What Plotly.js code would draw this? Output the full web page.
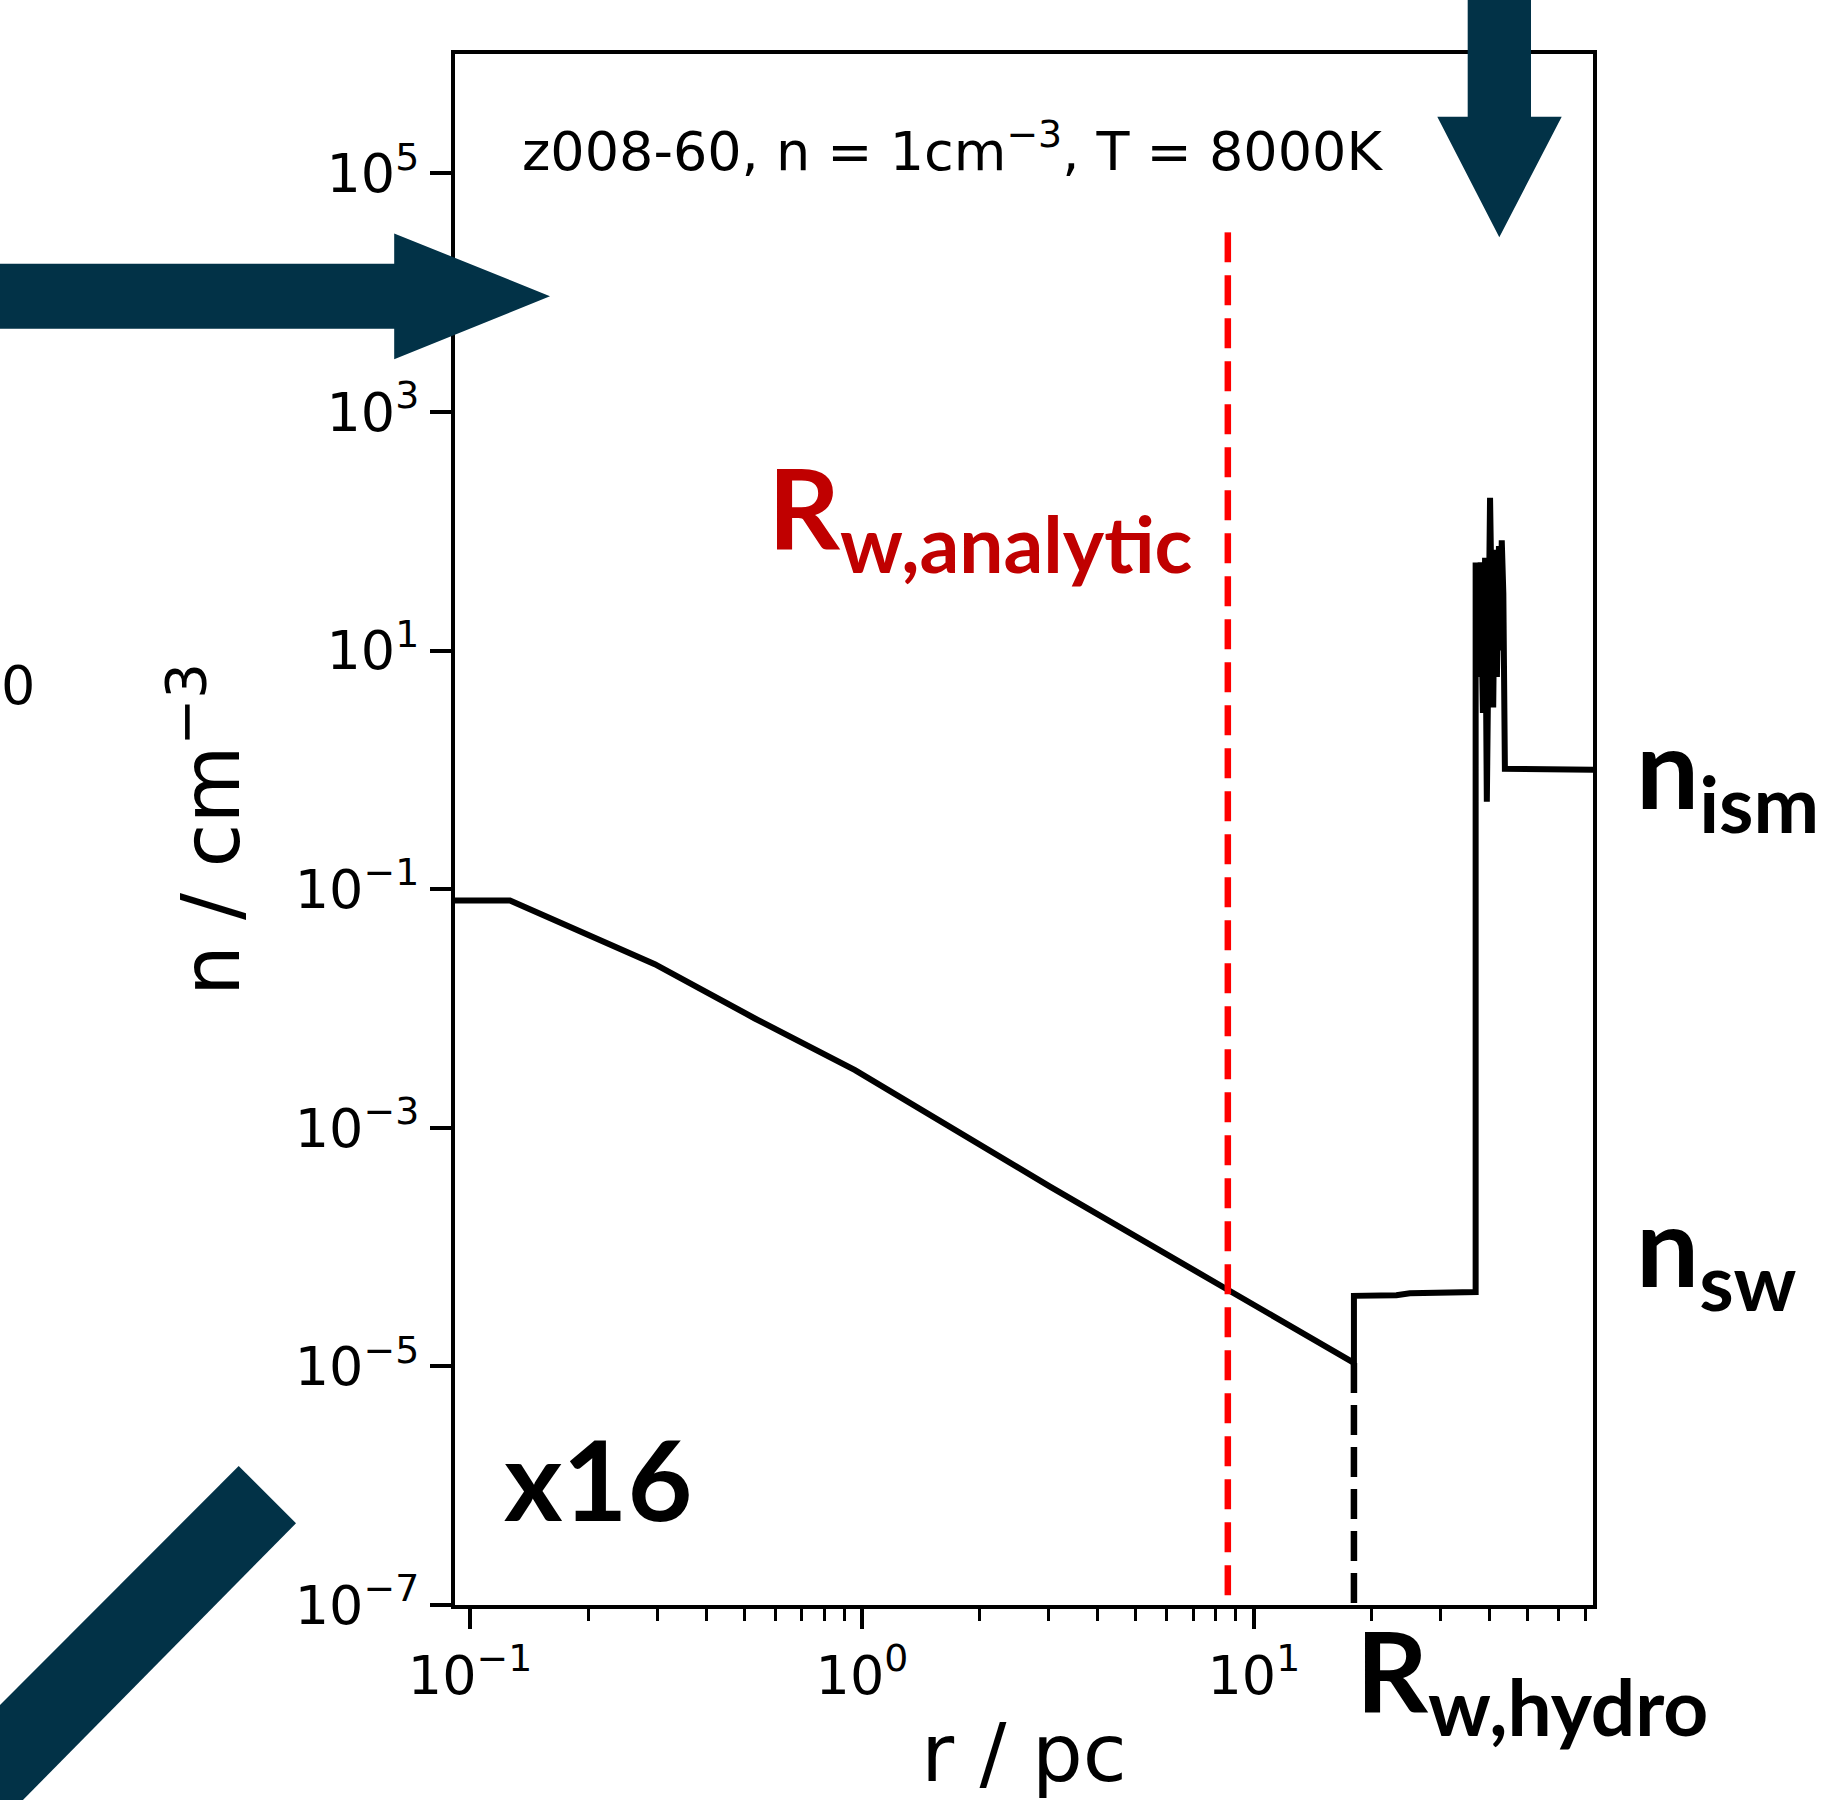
<!DOCTYPE html>
<html><head><meta charset="utf-8">
<script src="https://cdn.plot.ly/plotly-3.0.1.min.js"></script>
<style>html,body{margin:0;padding:0;background:#fff}</style>
</head><body>
<div id="chart" style="width:1833px;height:1800px"></div>
<script>
// ---- data ----
const radius_pc = [0.09, 0.1264, 0.296, 0.533, 0.960, 3.018, 8.577, 18.0, 18.0, 23.1, 25.0, 36.8, 36.8, 37.4, 37.9, 38.4, 38.9, 39.3, 40.05, 40.4, 40.8, 41.2, 41.7, 42.2, 42.6, 42.9, 43.3, 43.7, 75];
const density_cm3 = [0.0805, 0.0805, 0.0235, 0.00824, 0.00304, 3.21e-4, 4.39e-5, 1.07e-5, 3.9e-5, 3.95e-5, 4.1e-5, 4.2e-5, 54.6, 6, 55, 3, 60, 0.54, 191, 20, 3.34, 70, 6, 75, 10, 84, 30, 1.02, 1.0];
const R_analytic = 8.58;
const R_analytic_top = 3.2e4;
const R_hydro = 18.0;
const R_hydro_top = 1.07e-5;
const n_floor = 1e-7;

const yTickVals = [1e-7, 1e-5, 1e-3, 1e-1, 1e1, 1e3, 1e5];
const yTickText = ['10<sup>\u22127</sup>', '10<sup>\u22125</sup>', '10<sup>\u22123</sup>', '10<sup>\u22121</sup>', '10<sup>1</sup>', '10<sup>3</sup>', '10<sup>5</sup>'];
const xTickVals = [0.1, 1, 10];
const xTickText = ['10<sup>\u22121</sup>', '10<sup>0</sup>', '10<sup>1</sup>'];
const xMinorVals = [0.2,0.3,0.4,0.5,0.6,0.7,0.8,0.9, 2,3,4,5,6,7,8,9, 20,30,40,50,60,70];

const titleText = 'z008-60, n = 1cm<sup>\u22123</sup>, T = 8000K';

// ---- layout helpers (pixel -> paper) ----
const W = 1833, H = 1800;
const L = 455, R = 1593, T = 54, B = 1605;
const px = X => (X - L) / (R - L);
const py = Y => (B - Y) / (B - T);
function poly(pts) {
  return 'M ' + pts.map(p => px(p[0]).toFixed(5) + ',' + py(p[1]).toFixed(5)).join(' L ') + ' Z';
}
const arrowColor = '#023247';

const traces = [
  {x: radius_pc, y: density_cm3, mode: 'lines', line: {color: '#000', width: 6}, hoverinfo: 'skip', showlegend: false},
  {x: [R_analytic, R_analytic], y: [R_analytic_top, n_floor], mode: 'lines', line: {color: '#ff0000', width: 6.5, dash: '30px,13px'}, showlegend: false},
  {x: [R_hydro, R_hydro], y: [R_hydro_top, n_floor], mode: 'lines', line: {color: '#000', width: 6.5, dash: '30px,12px'}, showlegend: false}
];

const tickFont = {family: 'DejaVu Sans', size: 54, color: '#000'};
const boldFont = (size, color) => ({family: 'Lato', size: size, color: color || '#000'});

const layout = {
  width: W, height: H,
  margin: {l: L, r: W - R, t: T, b: H - B, pad: 0},
  paper_bgcolor: '#fff', plot_bgcolor: '#fff',
  showlegend: false,
  xaxis: {
    type: 'log', range: [-1.0385, 1.8653], autorange: false,
    showgrid: false, zeroline: false,
    showline: true, linecolor: '#000', linewidth: 4, mirror: true,
    ticks: 'outside', ticklen: 20, tickwidth: 4, tickcolor: '#000',
    tickmode: 'array', tickvals: xTickVals, ticktext: xTickText,
    tickfont: tickFont,
    minor: {tickmode: 'array', tickvals: xMinorVals, ticks: 'outside', ticklen: 12, tickwidth: 3, tickcolor: '#000', showgrid: false},
    title: {text: 'r / pc', font: {family: 'DejaVu Sans', size: 80, color: '#000'}, standoff: 50}
  },
  yaxis: {
    type: 'log', range: [-7, 6], autorange: false,
    showgrid: false, zeroline: false,
    showline: true, linecolor: '#000', linewidth: 4, mirror: true,
    ticks: 'outside', ticklen: 21, tickwidth: 4, tickcolor: '#000',
    tickmode: 'array', tickvals: yTickVals, ticktext: yTickText,
    tickfont: tickFont,
    title: {text: 'n / cm<sup>\u22123</sup>', font: {family: 'DejaVu Sans', size: 80, color: '#000'}, standoff: 30}
  },
  annotations: [
    {xref: 'paper', yref: 'paper', x: px(952), y: py(147), xanchor: 'center', yanchor: 'middle', showarrow: false,
     text: titleText, font: {family: 'DejaVu Sans', size: 54, color: '#000'}},
    {xref: 'paper', yref: 'paper', x: px(766), y: py(514), xanchor: 'left', yanchor: 'middle', showarrow: false,
     text: '<b>R<sub>w,analytic</sub></b>', font: boldFont(112, '#c00000')},
    {xref: 'paper', yref: 'paper', x: px(1634), y: py(774), xanchor: 'left', yanchor: 'middle', showarrow: false,
     text: '<b>n<sub>ism</sub></b>', font: boldFont(112)},
    {xref: 'paper', yref: 'paper', x: px(1634), y: py(1252), xanchor: 'left', yanchor: 'middle', showarrow: false,
     text: '<b>n<sub>sw</sub></b>', font: boldFont(112)},
    {xref: 'paper', yref: 'paper', x: px(502), y: py(1477), xanchor: 'left', yanchor: 'middle', showarrow: false,
     text: '<b>x16</b>', font: boldFont(112)},
    {xref: 'paper', yref: 'paper', x: px(1354), y: py(1677), xanchor: 'left', yanchor: 'middle', showarrow: false,
     text: '<b>R<sub>w,hydro</sub></b>', font: boldFont(112)},
    {xref: 'paper', yref: 'paper', x: px(18), y: py(686), xanchor: 'center', yanchor: 'middle', showarrow: false,
     text: '0', font: tickFont}
  ],
  shapes: [
    {type: 'path', xref: 'paper', yref: 'paper', layer: 'above', fillcolor: arrowColor, line: {width: 0},
     path: poly([[-5,263.7],[394.2,263.7],[394.2,233.4],[550,296.2],[394.2,359.3],[394.2,328.7],[-5,328.7]])},
    {type: 'path', xref: 'paper', yref: 'paper', layer: 'above', fillcolor: arrowColor, line: {width: 0},
     path: poly([[1467.7,-5],[1531,-5],[1531,116.7],[1561.7,116.7],[1499.3,237.3],[1437.3,116.7],[1467.7,116.7]])},
    {type: 'path', xref: 'paper', yref: 'paper', layer: 'above', fillcolor: arrowColor, line: {width: 0},
     path: poly([[238.7,1466],[296,1523.3],[18,1805],[-5,1805],[-5,1710]])}
  ]
};

Plotly.newPlot('chart', traces, layout, {staticPlot: true, displayModeBar: false});
</script>
</body></html>
